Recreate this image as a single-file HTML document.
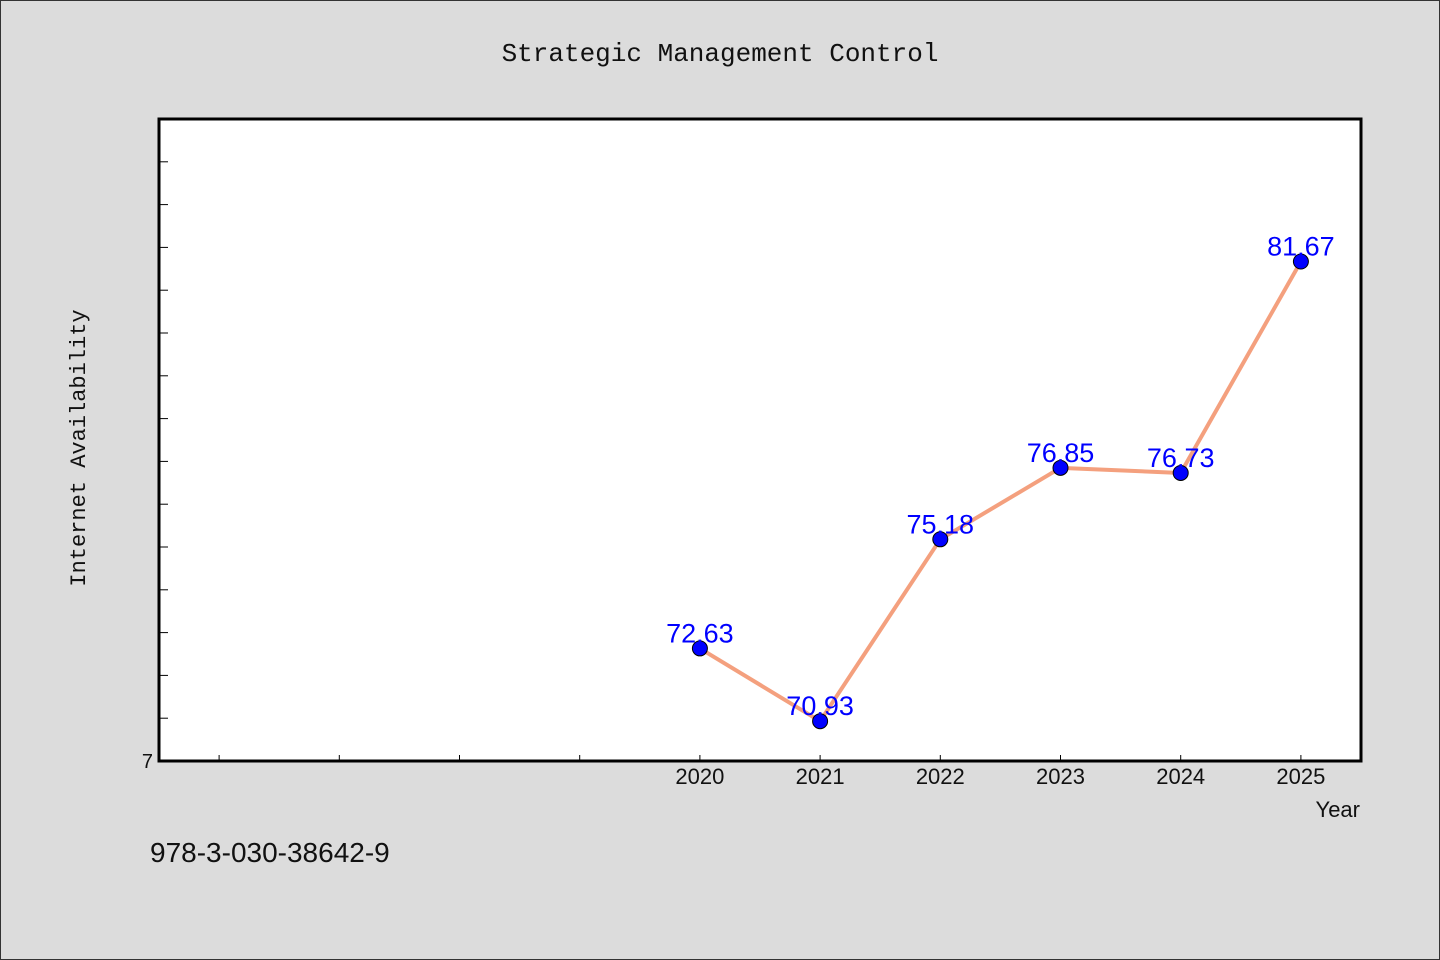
<!DOCTYPE html>
<html><head><meta charset="utf-8"><style>
html,body{margin:0;padding:0;background:#dcdcdc;}
svg{display:block;font-family:"WenQuanYi Zen Hei","Liberation Sans",sans-serif;}
</style></head><body>
<svg width="1440" height="960">
<rect x="0.5" y="0.5" width="1439" height="959" fill="#dcdcdc" stroke="#333"/>
<text x="720" y="61" text-anchor="middle" font-size="26" fill="#111" font-family="'Liberation Mono',monospace">Strategic Management Control</text>
<rect x="159" y="119" width="1202" height="642" fill="#fff"/>
<g id="ticks"></g>
<g id="series"></g>
<rect x="159" y="119" width="1202" height="642" fill="none" stroke="#000" stroke-width="3"/>
<text transform="translate(85,448) rotate(-90)" text-anchor="middle" font-size="22" fill="#111" font-family="'Liberation Mono',monospace">Internet Availability</text>
<text x="1360" y="817" text-anchor="end" font-size="22" fill="#111">Year</text>
<text x="150" y="862" font-size="28" fill="#111">978-3-030-38642-9</text>
</svg>
<script>
const years = [2020, 2021, 2022, 2023, 2024, 2025];
const values = [72.63, 70.93, 75.18, 76.85, 76.73, 81.67];
const valueLabels = ["72.63", "70.93", "75.18", "76.85", "76.73", "81.67"];
const xTicks = [2016, 2017, 2018, 2019, 2020, 2021, 2022, 2023, 2024, 2025];
const xTickLabels = ["", "", "", "", "2020", "2021", "2022", "2023", "2024", "2025"];
const yTicks = [70,71,72,73,74,75,76,77,78,79,80,81,82,83,84,85];
const yTickLabels = ["7","","","","","","","","","","","","","","",""];

const NS = "http://www.w3.org/2000/svg";
const X0 = 159, X1 = 1361, Y0 = 761, Y1 = 119;
const xmin = 2015.5, xmax = 2025.5, ymin = 70, ymax = 85;
const xs = v => X0 + (v - xmin) / (xmax - xmin) * (X1 - X0);
const ys = v => Y0 - (v - ymin) / (ymax - ymin) * (Y0 - Y1);
function mk(tag, attrs, parent) {
  const e = document.createElementNS(NS, tag);
  for (const k in attrs) e.setAttribute(k, attrs[k]);
  parent.appendChild(e);
  return e;
}
const tg = document.getElementById('ticks');
xTicks.forEach((t, i) => {
  const l = mk('line', {x1: xs(t), x2: xs(t), y1: Y0, y2: Y0 - 6, stroke: '#000', 'stroke-width': 1}, tg);
  
  
  if (xTickLabels[i]) {
    const tx = mk('text', {x: xs(t), y: Y0 + 23, 'text-anchor': 'middle', 'font-size': 22, fill: '#111'}, tg);
    tx.textContent = xTickLabels[i];
    
    
  }
});
yTicks.forEach((t, i) => {
  const l = mk('line', {x1: X0, x2: X0 + 9, y1: ys(t), y2: ys(t), stroke: '#000', 'stroke-width': 1}, tg);
  
  
  if (yTickLabels[i]) {
    const tx = mk('text', {x: X0 - 6, y: ys(t) + 7, 'text-anchor': 'end', 'font-size': 20, fill: '#111'}, tg);
    tx.textContent = yTickLabels[i];
    
    
  }
});
const sg = document.getElementById('series');
const pts = years.map((y, i) => xs(y) + ',' + ys(values[i])).join(' ');
const pl = mk('polyline', {points: pts, fill: 'none', stroke: '#f4a07e', 'stroke-width': 4, 'stroke-linejoin': 'round'}, sg);


years.forEach((y, i) => {
  const c = mk('circle', {cx: xs(y), cy: ys(values[i]), r: 7.5, fill: '#0000ff', stroke: '#000', 'stroke-width': 1}, sg);
  
  
});
years.forEach((y, i) => {
  const t = mk('text', {x: xs(y), y: ys(values[i]) - 6, 'text-anchor': 'middle', 'font-size': 27, fill: '#0000ff'}, sg);
  t.textContent = valueLabels[i];
  
  
});
</script>
</body></html>
